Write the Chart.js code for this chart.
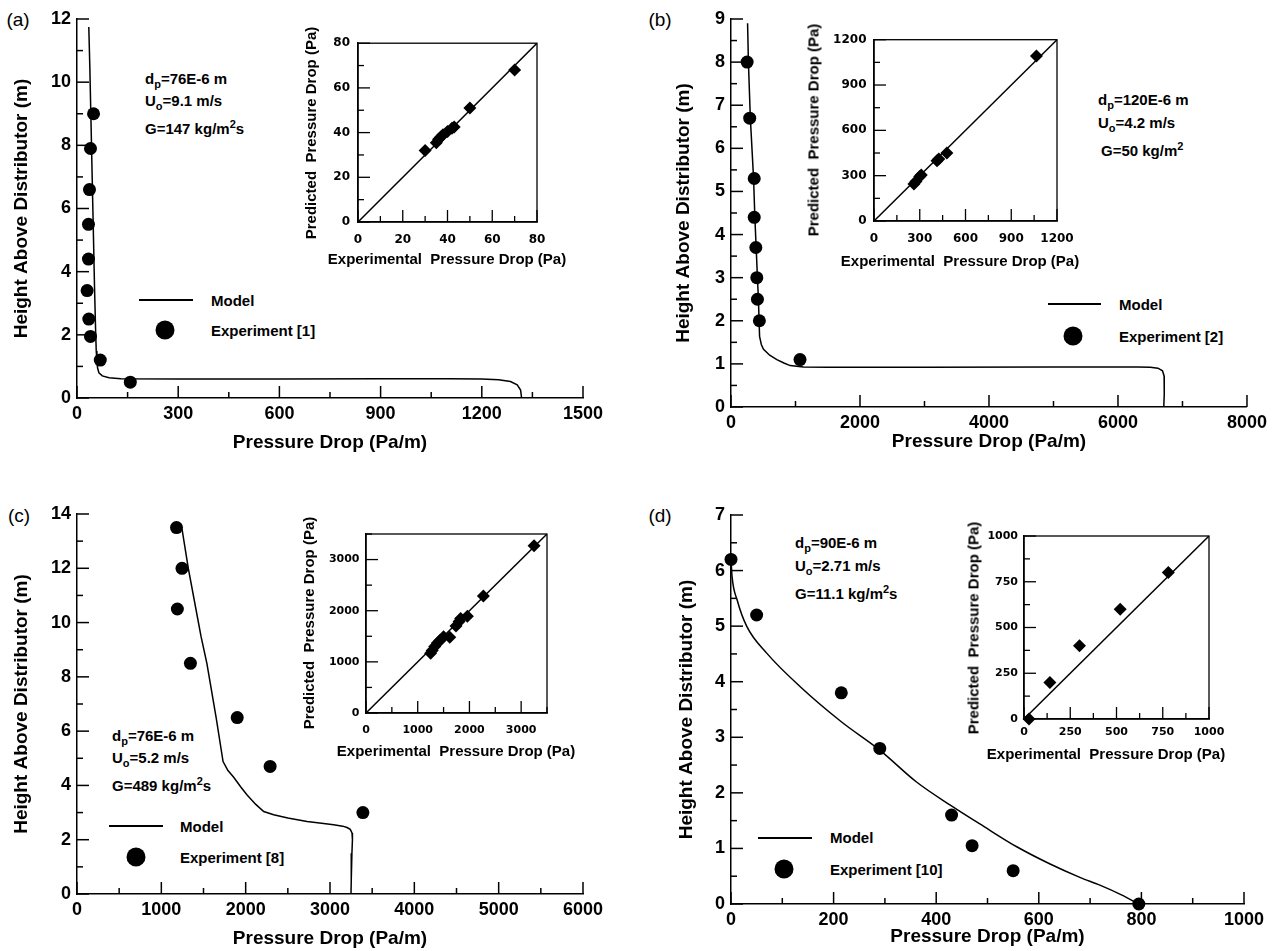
<!DOCTYPE html>
<html>
<head>
<meta charset="utf-8">
<script src="https://cdn.jsdelivr.net/npm/chart.js@4.4.0/dist/chart.umd.min.js"></script>
<style>
html, body { margin: 0; padding: 0; background: #fff; }
#page { position: relative; width: 1272px; height: 951px; overflow: hidden; font-family: "Liberation Sans", Arial, sans-serif; color: #000; }
canvas { position: absolute; }
.t { position: absolute; white-space: pre; line-height: 1; }
.c { transform: translate(-50%, -50%); }
.rot { transform: translate(-50%, -50%) rotate(-90deg); }
.panel { font-size: 19px; }
.note, .leg { font-weight: bold; font-size: 15px; transform: translateY(-50%); }
.note sub, .note sup { font-size: 11px; line-height: 0; }
.note sub { vertical-align: -4px; }
.note sup { vertical-align: 6px; }
.ititle { font-weight: bold; font-size: 15px; }
.lline { position: absolute; height: 1.5px; background: #000; }
.ldot { position: absolute; width: 19px; height: 19px; border-radius: 50%; background: #000; transform: translate(-50%, -50%); }
</style>
</head>
<body>
<div id="page">
  <div class="t panel c" style="left:18px;top:19px">(a)</div>
  <div class="t panel c" style="left:660px;top:19px">(b)</div>
  <div class="t panel c" style="left:19px;top:515px">(c)</div>
  <div class="t panel c" style="left:660px;top:515px">(d)</div>

  <div class="t note" style="left:145px;top:78px">d<sub>p</sub>=76E-6 m</div>
  <div class="t note" style="left:145px;top:100px">U<sub>o</sub>=9.1 m/s</div>
  <div class="t note" style="left:145px;top:128px">G=147 kg/m<sup>2</sup>s</div>

  <div class="t note" style="left:1098px;top:99px">d<sub>p</sub>=120E-6 m</div>
  <div class="t note" style="left:1098px;top:122px">U<sub>o</sub>=4.2 m/s</div>
  <div class="t note" style="left:1101px;top:150px">G=50 kg/m<sup>2</sup></div>

  <div class="t note" style="left:112px;top:735px">d<sub>p</sub>=76E-6 m</div>
  <div class="t note" style="left:112px;top:757px">U<sub>o</sub>=5.2 m/s</div>
  <div class="t note" style="left:112px;top:785px">G=489 kg/m<sup>2</sup>s</div>

  <div class="t note" style="left:795px;top:542px">d<sub>p</sub>=90E-6 m</div>
  <div class="t note" style="left:795px;top:565px">U<sub>o</sub>=2.71 m/s</div>
  <div class="t note" style="left:795px;top:593px">G=11.1 kg/m<sup>2</sup>s</div>

  <div class="lline" style="left:139px;top:299px;width:54px"></div>
  <div class="t leg" style="left:211px;top:300px">Model</div>
  <div class="ldot" style="left:165px;top:330px"></div>
  <div class="t leg" style="left:211px;top:330px">Experiment [1]</div>

  <div class="lline" style="left:1048px;top:303px;width:53px"></div>
  <div class="t leg" style="left:1119px;top:304px">Model</div>
  <div class="ldot" style="left:1073px;top:336px"></div>
  <div class="t leg" style="left:1119px;top:336px">Experiment [2]</div>

  <div class="lline" style="left:109px;top:825px;width:54px"></div>
  <div class="t leg" style="left:180px;top:826px">Model</div>
  <div class="ldot" style="left:136px;top:857px"></div>
  <div class="t leg" style="left:180px;top:857px">Experiment [8]</div>

  <div class="lline" style="left:758px;top:837px;width:54px"></div>
  <div class="t leg" style="left:830px;top:837px">Model</div>
  <div class="ldot" style="left:784px;top:869px"></div>
  <div class="t leg" style="left:830px;top:869px">Experiment [10]</div>
</div>
<script>
// ---- data ----
// (a) dp=76E-6 m, Uo=9.1 m/s
const aModelP = [35, 38, 41, 45, 49, 52, 55, 57, 59, 61, 65, 75, 95, 130, 300, 600, 900, 1100, 1200, 1250, 1285, 1305, 1315, 1318];
const aModelH = [11.75, 10.5, 9.0, 7.0, 5.0, 3.5, 2.2, 1.5, 1.2, 0.95, 0.8, 0.7, 0.64, 0.61, 0.6, 0.6, 0.61, 0.61, 0.6, 0.58, 0.52, 0.42, 0.25, 0];
const aExpP = [49, 40, 37, 34, 34, 30, 35, 40, 69, 158];
const aExpH = [9.0, 7.9, 6.6, 5.5, 4.4, 3.4, 2.5, 1.95, 1.2, 0.5];
const aInsetExp = [30, 35, 36, 37, 38, 40, 42, 43, 50, 70];
const aInsetPred = [32, 35.5, 37, 38, 39, 40.5, 42, 42.5, 51, 68];
const aParity = [0, 80];
const aInsetTicks = [0, 20, 40, 60, 80];

// (b) dp=120E-6 m, Uo=4.2 m/s
const bModelP = [257, 270, 300, 350, 370, 390, 410, 425, 443, 470, 504, 600, 711, 820, 917, 1123, 1500, 3000, 5000, 6300, 6500, 6620, 6690, 6715, 6720, 6715, 6710];
const bModelH = [8.9, 8.0, 6.7, 5.3, 4.4, 3.7, 3.0, 2.5, 1.64, 1.45, 1.34, 1.2, 1.1, 1.02, 0.96, 0.93, 0.92, 0.92, 0.93, 0.93, 0.92, 0.9, 0.84, 0.72, 0.55, 0.3, 0];
const bExpP = [250, 290, 360, 360, 385, 400, 410, 440, 1070];
const bExpH = [8.0, 6.7, 5.3, 4.4, 3.7, 3.0, 2.5, 2.0, 1.1];
const bInsetExp = [262, 275, 300, 310, 413, 425, 478, 1065];
const bInsetPred = [245, 262, 295, 305, 398, 410, 450, 1092];
const bParity = [0, 1200];
const bInsetTicks = [0, 300, 600, 900, 1200];

// (c) dp=76E-6 m, Uo=5.2 m/s
const cModelP = [1245, 1320, 1410, 1470, 1540, 1650, 1732, 1790, 1858, 1940, 2017, 2120, 2214, 2332, 2500, 2728, 2900, 3044, 3150, 3202, 3240, 3261, 3266, 3260, 3254, 3250, 3249];
const cModelH = [13.45, 12.0, 10.5, 9.5, 8.5, 6.5, 4.88, 4.55, 4.3, 3.95, 3.65, 3.3, 3.04, 2.92, 2.8, 2.67, 2.61, 2.55, 2.5, 2.45, 2.38, 2.25, 2.0, 1.5, 1.0, 0.5, 0];
const cExpP = [1180, 1245, 1190, 1345, 1900, 2290, 3390];
const cExpH = [13.5, 12.0, 10.5, 8.5, 6.5, 4.7, 3.0];
const cInsetExp = [1250, 1280, 1330, 1380, 1430, 1500, 1620, 1740, 1800, 1830, 1960, 2270, 3250];
const cInsetPred = [1170, 1220, 1300, 1370, 1420, 1490, 1480, 1700, 1790, 1850, 1890, 2290, 3270];
const cParity = [0, 3500];
const cInsetTicks = [0, 1000, 2000, 3000];

// (d) dp=90E-6 m, Uo=2.71 m/s
const dModelP = [0, 2, 12, 31, 70, 135, 215, 290, 361, 429, 492, 557, 622, 680, 719, 760, 795];
const dModelH = [6.2, 5.9, 5.47, 4.99, 4.51, 3.91, 3.28, 2.77, 2.2, 1.77, 1.4, 1.03, 0.72, 0.48, 0.34, 0.17, 0];
const dExpP = [0, 50, 215, 290, 430, 470, 550, 795];
const dExpH = [6.2, 5.2, 3.8, 2.8, 1.6, 1.05, 0.6, 0];
const dInsetExp = [27, 140, 300, 520, 780];
const dInsetPred = [0, 200, 400, 600, 800];
const dParity = [0, 1000];
const dInsetTicks = [0, 250, 500, 750, 1000];

Chart.defaults.font.family = '"Liberation Sans", Arial, sans-serif';
Chart.defaults.color = '#000';

const page = document.getElementById('page');
const pts = (xs, ys) => xs.map((x, i) => ({ x: x, y: ys[i] }));

// tick marks pointing into the plot, major + minor
const inTicks = {
  id: 'inTicks',
  beforeDatasetsDraw(chart, args, opts) {
    const ctx = chart.ctx;
    const { left, right, top, bottom } = chart.chartArea;
    ctx.save();
    ctx.strokeStyle = '#000';
    ctx.lineWidth = opts.width;
    ['x', 'y'].forEach(id => {
      const s = chart.scales[id];
      const r = opts[id];
      for (let k = 0; k * r.minor <= s.max + 1e-9; k++) {
        const v = k * r.minor;
        const q = v / r.step;
        const len = Math.abs(q - Math.round(q)) < 1e-6 ? opts.majorLen : opts.minorLen;
        const p = s.getPixelForValue(v);
        ctx.beginPath();
        if (id === 'x') { ctx.moveTo(p, bottom); ctx.lineTo(p, bottom - len); }
        else { ctx.moveTo(left, p); ctx.lineTo(left + len, p); }
        ctx.stroke();
      }
    });
    if (opts.frame) ctx.strokeRect(left, top, right - left, bottom - top);
    ctx.restore();
  }
};

function makeCanvas(f) {
  const c = document.createElement('canvas');
  c.width = f.w; c.height = f.h;
  c.style.left = f.x + 'px'; c.style.top = f.y + 'px';
  c.style.width = f.w + 'px'; c.style.height = f.h + 'px';
  page.appendChild(c);
  return c;
}

function axis(r, tickFont, pad, title, fit) {
  const cfg = {
    type: 'linear', min: 0, max: r.max,
    ticks: {
      stepSize: r.step, autoSkip: false, maxRotation: 0,
      padding: pad, color: '#000', font: tickFont, callback: v => String(v)
    },
    grid: { display: false, drawTicks: false },
    border: { display: true, color: '#000', width: 1.5 },
    title: title ? { display: true, text: title, color: '#000', padding: 0, font: { size: 19, weight: 'bold' } } : { display: false },
    afterFit: fit
  };
  if (r.labels) cfg.afterBuildTicks = s => { s.ticks = r.labels.map(v => ({ value: v })); };
  return cfg;
}

function mainChart(f, a, tx, ty, xs, ys, modelP, modelH, expP, expH, smooth) {
  const lh = 19 * 1.2;
  const yW = a.l - (tx - lh / 2);
  const xH = ty + lh / 2 - a.b;
  const tickFont = { size: 18, weight: 'bold' };
  const model = { data: pts(modelP, modelH), showLine: true, borderColor: '#000', borderWidth: 1.5, pointRadius: 0, tension: 0 };
  if (smooth) model.cubicInterpolationMode = 'monotone';
  new Chart(makeCanvas(f), {
    type: 'scatter',
    data: {
      datasets: [
        model,
        { data: pts(expP, expH), pointRadius: 6.5, backgroundColor: '#000', borderColor: '#000', borderWidth: 0, clip: false }
      ]
    },
    options: {
      responsive: false, animation: false,
      layout: { padding: { left: tx - lh / 2 - f.x, top: a.t - f.y, right: f.x + f.w - a.r, bottom: f.y + f.h - a.b - xH } },
      plugins: {
        legend: { display: false }, tooltip: { enabled: false },
        inTicks: { x: xs, y: ys, majorLen: 12, minorLen: 6, width: 1.5 }
      },
      scales: {
        x: axis(xs, tickFont, 5, 'Pressure Drop (Pa/m)', s => { s.height = xH; }),
        y: axis(ys, tickFont, 6, 'Height Above Distributor (m)', s => { s.width = yW; })
      }
    },
    plugins: [inTicks]
  });
}

function insetChart(f, a, r, fontSize, xPad, yPad, expP, predP, parity) {
  const yW = 44, xH = 30;
  const tickFont = { size: fontSize, weight: 'bold', family: '"DejaVu Sans", sans-serif' };
  new Chart(makeCanvas(f), {
    type: 'scatter',
    data: {
      datasets: [
        { data: pts(parity, parity), showLine: true, borderColor: '#000', borderWidth: 1.5, pointRadius: 0 },
        { data: pts(expP, predP), pointStyle: 'rectRot', pointRadius: 6.5, backgroundColor: '#000', borderColor: '#000', borderWidth: 0, clip: false }
      ]
    },
    options: {
      responsive: false, animation: false,
      layout: { padding: { left: a.l - f.x - yW, top: a.t - f.y, right: f.x + f.w - a.r, bottom: f.y + f.h - a.b - xH } },
      plugins: {
        legend: { display: false }, tooltip: { enabled: false },
        inTicks: { x: r, y: r, majorLen: 12, minorLen: 6, width: 1.3, frame: true }
      },
      scales: {
        x: axis(r, tickFont, xPad, null, s => { s.height = xH; }),
        y: axis(r, tickFont, yPad, null, s => { s.width = yW; })
      }
    },
    plugins: [inTicks]
  });
}

function label(text, x, y, rotate) {
  const d = document.createElement('div');
  d.className = 't ititle ' + (rotate ? 'rot' : 'c');
  d.style.left = x + 'px'; d.style.top = y + 'px';
  d.textContent = text;
  page.appendChild(d);
}

mainChart({ x: 0, y: 0, w: 636, h: 470 }, { l: 77, t: 19, r: 583, b: 398 }, 22, 443,
  { max: 1500, step: 300, minor: 150 }, { max: 12, step: 2, minor: 1 }, aModelP, aModelH, aExpP, aExpH);
mainChart({ x: 636, y: 0, w: 636, h: 470 }, { l: 731, t: 19, r: 1247, b: 407 }, 684, 442,
  { max: 8000, step: 2000, minor: 1000 }, { max: 9, step: 1, minor: 0.5 }, bModelP, bModelH, bExpP, bExpH);
mainChart({ x: 0, y: 470, w: 636, h: 481 }, { l: 77, t: 514, r: 583, b: 894 }, 22, 939,
  { max: 6000, step: 1000, minor: 500 }, { max: 14, step: 2, minor: 1 }, cModelP, cModelH, cExpP, cExpH);
mainChart({ x: 636, y: 470, w: 636, h: 481 }, { l: 731, t: 515, r: 1244, b: 904 }, 687, 937,
  { max: 1000, step: 200, minor: 100 }, { max: 7, step: 1, minor: 0.5 }, dModelP, dModelH, dExpP, dExpH, true);

insetChart({ x: 290, y: 28, w: 300, h: 230 }, { l: 358, t: 43, r: 537, b: 222 },
  { max: 80, step: 20, minor: 10, labels: aInsetTicks }, 12, 10.5, 8, aInsetExp, aInsetPred, aParity);
insetChart({ x: 810, y: 25, w: 280, h: 230 }, { l: 874, t: 39, r: 1057, b: 221 },
  { max: 1200, step: 300, minor: 150, labels: bInsetTicks }, 12, 11, 7.5, bInsetExp, bInsetPred, bParity);
insetChart({ x: 300, y: 520, w: 280, h: 230 }, { l: 366, t: 534, r: 547, b: 713 },
  { max: 3500, step: 1000, minor: 500, labels: cInsetTicks }, 11, 11, 6.5, cInsetExp, cInsetPred, cParity);
insetChart({ x: 960, y: 520, w: 290, h: 230 }, { l: 1024, t: 536, r: 1209, b: 719 },
  { max: 1000, step: 250, minor: 125, labels: dInsetTicks }, 11, 7, 6, dInsetExp, dInsetPred, dParity);

label('Experimental  Pressure Drop (Pa)', 447, 258);
label('Predicted  Pressure Drop (Pa)', 310, 133, true);
label('Experimental  Pressure Drop (Pa)', 960, 260);
label('Predicted  Pressure Drop (Pa)', 813, 130, true);
label('Experimental  Pressure Drop (Pa)', 456, 750);
label('Predicted  Pressure Drop (Pa)', 308, 623, true);
label('Experimental  Pressure Drop (Pa)', 1106, 753);
label('Predicted  Pressure Drop (Pa)', 973, 628, true);
</script>
</body>
</html>
